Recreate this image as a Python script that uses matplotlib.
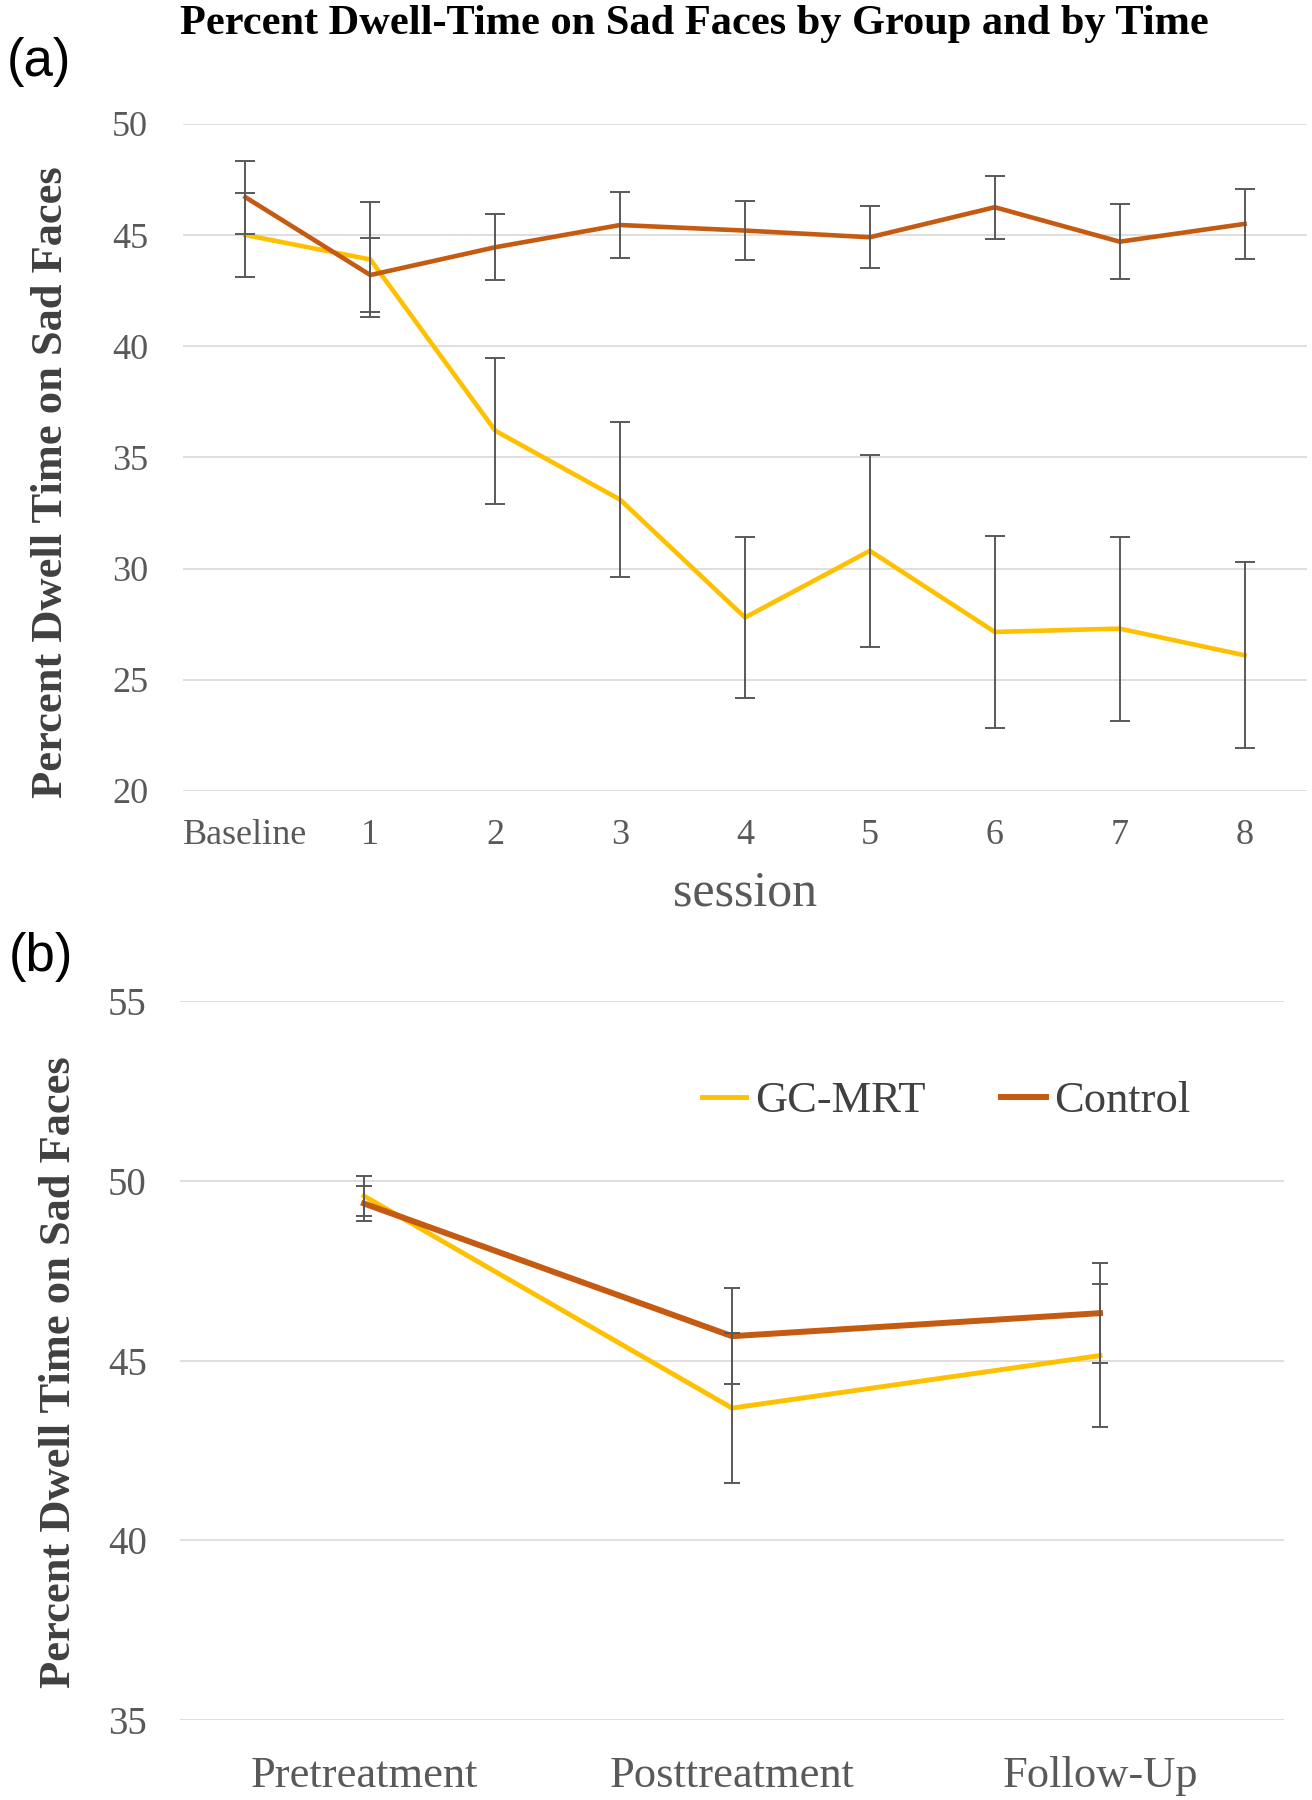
import matplotlib
matplotlib.use('Agg')
import matplotlib.pyplot as plt
import numpy as np

# panel (a): per session
sessions = ['Baseline', '1', '2', '3', '4', '5', '6', '7', '8']
gc_a = [45.0, 43.9, 36.2, 33.1, 27.8, 30.8, 27.15, 27.3, 26.1]
gc_a_err = [1.87, 2.57, 3.29, 3.49, 3.6, 4.32, 4.32, 4.14, 4.18]
ctrl_a = [46.7, 43.2, 44.45, 45.45, 45.2, 44.9, 46.25, 44.7, 45.5]
ctrl_a_err = [1.65, 1.67, 1.49, 1.47, 1.33, 1.39, 1.41, 1.69, 1.57]

# panel (b): per time point
times = ['Pretreatment', 'Posttreatment', 'Follow-Up']
gc_b = [49.58, 43.68, 45.14]
gc_b_err = [0.55, 2.08, 2.0]
ctrl_b = [49.37, 45.68, 46.32]
ctrl_b_err = [0.48, 1.33, 1.39]

yellow = '#FFC000'
orange = '#C55A11'
grey = '#595959'
grid = '#D9D9D9'
serif = 'Liberation Serif'
ylab = 'Percent Dwell Time on Sad Faces'

fig = plt.figure(figsize=(13.12, 18), dpi=100)
ax1 = fig.add_axes([0.1395, 0.5606, 0.8567, 0.3706])
ax2 = fig.add_axes([0.1372, 0.0444, 0.8415, 0.3994])


def style(ax, ticks, ylim, xfs, yfs, xpad, ypad):
    for s in ax.spines.values():
        s.set_visible(False)
    ax.set_ylim(*ylim)
    ax.set_yticks(ticks)
    ax.yaxis.grid(True, color=grid, linewidth=1.2)
    ax.set_axisbelow(True)
    ax.tick_params(axis='both', length=0, colors=grey)
    ax.tick_params(axis='x', labelsize=xfs, pad=xpad)
    ax.tick_params(axis='y', labelsize=yfs, pad=ypad)
    for lab in ax.get_xticklabels() + ax.get_yticklabels():
        lab.set_fontfamily(serif)


x = np.arange(len(sessions))
ax1.plot(x, gc_a, color=yellow, lw=3.3, zorder=3)
ax1.plot(x, ctrl_a, color=orange, lw=3.3, zorder=4)
ax1.errorbar(x, gc_a, yerr=gc_a_err, fmt='none', ecolor=grey, elinewidth=1.4,
             capsize=7, capthick=1.4, zorder=5)
ax1.errorbar(x, ctrl_a, yerr=ctrl_a_err, fmt='none', ecolor=grey, elinewidth=1.4,
             capsize=7, capthick=1.4, zorder=5)
ax1.set_xlim(-0.5, len(sessions) - 0.5)
ax1.set_xticks(x)
ax1.set_xticklabels(sessions)
style(ax1, [20, 25, 30, 35, 40, 45, 50], (20, 50), 26, 26, 20.5, 25)
ax1.set_xlabel('session', fontfamily=serif, fontsize=36, color=grey, labelpad=13)
ax1.set_ylabel(ylab, fontfamily=serif, fontweight='bold', fontsize=32, color='#404040')
ax1.yaxis.set_label_coords(-0.0993, 0.463)

x2 = np.arange(len(times))
ax2.plot(x2, gc_b, color=yellow, lw=3.5, zorder=3, label='GC-MRT')
ax2.plot(x2, ctrl_b, color=orange, lw=4.3, zorder=4, label='Control')
ax2.errorbar(x2, gc_b, yerr=gc_b_err, fmt='none', ecolor=grey, elinewidth=1.4,
             capsize=5.5, capthick=1.4, zorder=5)
ax2.errorbar(x2, ctrl_b, yerr=ctrl_b_err, fmt='none', ecolor=grey, elinewidth=1.4,
             capsize=5.5, capthick=1.4, zorder=5)
ax2.set_xlim(-0.5, len(times) - 0.5)
ax2.set_xticks(x2)
ax2.set_xticklabels(times)
style(ax2, [35, 40, 45, 50, 55], (35, 55), 32, 28, 26, 24)
ax2.set_ylabel(ylab, fontfamily=serif, fontweight='bold', fontsize=32, color='#404040')
ax2.yaxis.set_label_coords(-0.0913, 0.484)
leg = ax2.legend(loc='center', bbox_to_anchor=(0.694, 0.861), ncol=2, frameon=False,
                 prop={'family': serif, 'size': 32}, handlelength=1.0,
                 handletextpad=0.2, columnspacing=1.7, borderpad=0)
for t in leg.get_texts():
    t.set_color('#404040')

fig.text(0.529, 0.9865, 'Percent Dwell-Time on Sad Faces by Group and by Time',
         ha='center', va='center', fontfamily=serif, fontweight='bold', fontsize=30.5)
fig.text(0.03, 0.9655, '(a)', ha='center', va='center', fontfamily='Liberation Sans', fontsize=38)
fig.text(0.031, 0.4683, '(b)', ha='center', va='center', fontfamily='Liberation Sans', fontsize=38)

fig.savefig('out.png', dpi=100)
